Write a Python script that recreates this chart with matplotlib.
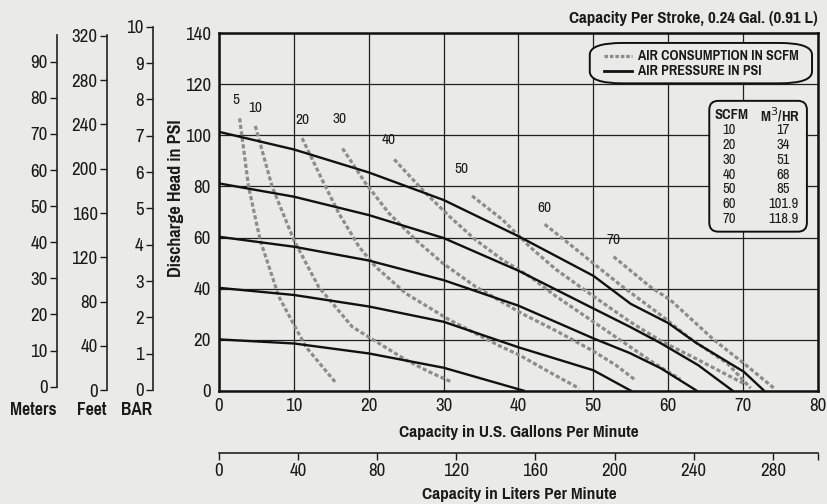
import matplotlib.pyplot as plt
from matplotlib import font_manager
from matplotlib.patches import FancyBboxPatch
from matplotlib.lines import Line2D

# Fonte estreita parecida com Arial Narrow, se existir
available = set(f.name for f in font_manager.fontManager.ttflist)
prefs = ['Liberation Sans Narrow', 'Arial Narrow', 'Pragati Narrow', 'Roboto Condensed',
         'PT Sans Narrow', 'Archivo Narrow', 'Liberation Sans']
narrow = [f for f in prefs if f in available][0]
plt.rcParams['font.family'] = [narrow, 'DejaVu Sans']

# Curvas de pressão do ar (PSI): pontos (GPM, PSI)
press_gpm = [
    [0, 10, 20, 30, 40, 50, 55, 60, 63.8, 70.1, 72.8],
    [0, 10, 20, 30, 40, 50, 54.9, 59, 64, 68.6],
    [0, 10, 20, 30, 40, 50, 54.9, 59, 63.8],
    [0, 10, 20, 30, 40, 50, 55],
    [0, 10, 20, 30, 40.7],
]
press_psi = [
    [101.4, 94.5, 85.5, 74.7, 60.5, 45, 34, 26.5, 18.6, 7.4, 0],
    [81.2, 76, 68.8, 59.8, 47, 32.2, 25, 18.6, 10, 0],
    [60.3, 56.4, 51, 43.3, 33.3, 20.5, 14.7, 8.8, 0],
    [40.3, 37.5, 33, 27, 17, 8, 0],
    [20.1, 18.5, 14.6, 9, 0],
]

# Curvas de consumo de ar (SCFM)
scfm_labels = ['5', '10', '20', '30', '40', '50', '60', '70']
scfm_gpm = [
    [2.75, 3.95, 5.5, 8.0, 11.6, 15.6],
    [4.85, 7.1, 10.0, 13.3, 17.8, 21.4, 25, 28, 31.0],
    [11.1, 13.8, 16.0, 18.7, 20.9, 25, 30.8, 37.5, 40.1, 44, 48.1],
    [16.5, 19.6, 22.7, 26.3, 29.9, 34.3, 40.6, 45, 50, 53, 55.6],
    [23.4, 27.2, 30.8, 34.3, 37.9, 41.5, 45, 50, 55, 58, 61.6],
    [33.8, 37.9, 41.5, 45, 50, 54.9, 59, 63.4, 67, 70.3],
    [43.5, 47, 50, 53.6, 57, 59, 62.9, 67.9, 71],
    [52.7, 57.6, 60.3, 66.1, 70.1, 74.2],
]
scfm_psi = [
    [106.7, 79.9, 59, 36.8, 17.2, 3.1],
    [103.7, 79.9, 59, 40.7, 25, 18.5, 12, 7.5, 3.5],
    [98.9, 82.5, 69.5, 56.4, 48.6, 38, 27.7, 17.5, 14, 7.5, 0.9],
    [94.9, 81.2, 69.5, 59, 49.9, 40.7, 30, 23.5, 15.5, 10, 4.2],
    [90.6, 78.6, 68.2, 59, 51.2, 44.7, 37, 27, 17, 11, 4.5],
    [76.3, 66.9, 56.4, 47.5, 37, 27, 19.5, 13, 7.5, 2.5],
    [65.2, 57, 49.9, 41.4, 34, 29.6, 20.5, 10.7, 1],
    [52.5, 40.7, 35.5, 19.9, 10.7, 0.8],
]
label_offsets = [(-3, 8), (0, 8), (0, 8), (-2, 16), (-4, 9), (-8, 14), (0, 7), (0, 7)]

# Tabela SCFM -> M3/HR
tab_scfm = ['10', '20', '30', '40', '50', '60', '70']
tab_m3hr = ['17', '34', '51', '68', '85', '101.9', '118.9']

# Eixos auxiliares
meters_ticks = [0, 10, 20, 30, 40, 50, 60, 70, 80, 90]
feet_ticks = [0, 40, 80, 120, 160, 200, 240, 280, 320]
bar_ticks = [0, 1, 2, 3, 4, 5, 6, 7, 8, 9, 10]
lpm_ticks = [0, 40, 80, 120, 160, 200, 240, 280]

W, H = 828, 504
bg = '#eaeae8'
txt = '#1a1a1a'
tick_fs = 14.8
lab_fs = 13.5


def fx(px):
    return px / W


def fy(py):
    return 1 - py / H


fig = plt.figure(figsize=(8.28, 5.04), dpi=100, facecolor=bg)

# Gráfico principal
ax = fig.add_axes([fx(219), fy(390.7), fx(818) - fx(219), fy(33.3) - fy(390.7)])
ax.set_facecolor(bg)
ax.set_xlim(0, 80)
ax.set_ylim(0, 140)
ax.set_xticks(range(0, 81, 10))
ax.set_yticks(range(0, 141, 20))
ax.grid(True, color='#202020', linewidth=0.9)
ax.set_axisbelow(True)
for s in ax.spines.values():
    s.set_linewidth(1.8)
    s.set_color('#111111')
ax.tick_params(length=0, labelsize=tick_fs, colors=txt, pad=6)
ax.tick_params(axis='x', pad=5)

for gx, gy in zip(scfm_gpm, scfm_psi):
    ax.plot(gx, gy, color='#8c8c8c', linewidth=2.3, dashes=(1.3, 0.75),
            solid_capstyle='butt', dash_capstyle='butt', zorder=3)
for gx, gy in zip(press_gpm, press_psi):
    ax.plot(gx, gy, color='#111111', linewidth=1.7, zorder=4)

for lab, gx, gy, off in zip(scfm_labels, scfm_gpm, scfm_psi, label_offsets):
    ax.annotate(lab, (gx[0], gy[0]), xytext=off, textcoords='offset points',
                ha='center', va='bottom', fontsize=12, color=txt)

# Legenda arredondada
leg = FancyBboxPatch((0.619, 0.860), 0.371, 0.113, transform=ax.transAxes,
                     boxstyle='round,pad=0,rounding_size=0.055',
                     facecolor=bg, edgecolor='#111111', linewidth=1.4, zorder=5,
                     mutation_aspect=357.4 / 599)
ax.add_patch(leg)
ax.add_line(Line2D([0.643, 0.690], [0.937, 0.937], transform=ax.transAxes,
                   color='#8c8c8c', linewidth=2.3, dashes=(1.1, 0.6), zorder=6))
ax.add_line(Line2D([0.643, 0.690], [0.895, 0.895], transform=ax.transAxes,
                   color='#111111', linewidth=2.0, zorder=6))
ax.text(0.700, 0.937, 'AIR CONSUMPTION IN SCFM', transform=ax.transAxes,
        fontsize=11, fontweight='bold', va='center', ha='left', color=txt, zorder=6)
ax.text(0.700, 0.895, 'AIR PRESSURE IN PSI', transform=ax.transAxes,
        fontsize=11, fontweight='bold', va='center', ha='left', color=txt, zorder=6)

# Tabela SCFM / M3/HR
tab = FancyBboxPatch((0.8185, 0.445), 0.163, 0.366, transform=ax.transAxes,
                     boxstyle='round,pad=0,rounding_size=0.015',
                     facecolor=bg, edgecolor='#111111', linewidth=1.4, zorder=5,
                     mutation_aspect=599 / 357.4)
ax.add_patch(tab)
ax.text(0.856, 0.772, 'SCFM', transform=ax.transAxes, fontsize=11.5,
        fontweight='bold', ha='center', va='center', color=txt, zorder=6)
ax.text(0.937, 0.772, 'M$^{3}$/HR', transform=ax.transAxes, fontsize=11.5,
        fontweight='bold', ha='center', va='center', color=txt, zorder=6)
for i, (a, b) in enumerate(zip(tab_scfm, tab_m3hr)):
    yy = 0.729 - i * 0.0415
    ax.text(0.852, yy, a, transform=ax.transAxes, fontsize=11.5,
            ha='center', va='center', color=txt, zorder=6)
    ax.text(0.942, yy, b, transform=ax.transAxes, fontsize=11.5,
            ha='center', va='center', color=txt, zorder=6)

fig.text(fx(818), fy(18), 'Capacity Per Stroke, 0.24 Gal. (0.91 L)', ha='right',
         va='center', fontsize=13.3, fontweight='bold', color=txt)
fig.text(fx(176), fy(198), 'Discharge Head in PSI', rotation=90, ha='center',
         va='center', fontsize=14.2, fontweight='bold', color=txt)
fig.text(fx(519), fy(432), 'Capacity in U.S. Gallons Per Minute', ha='center',
         va='center', fontsize=lab_fs, fontweight='bold', color=txt)


def side_axis(xpx, y0px, y1px, top, ticks, title, title_x):
    a = fig.add_axes([fx(xpx), fy(y0px), 0.0001, fy(y1px) - fy(y0px)])
    a.set_facecolor('none')
    for k in ['top', 'right', 'bottom']:
        a.spines[k].set_visible(False)
    a.spines['left'].set_linewidth(1.2)
    a.spines['left'].set_color('#222222')
    a.set_ylim(0, top)
    a.set_yticks(ticks)
    a.set_xticks([])
    a.tick_params(axis='y', length=5, width=1.0, labelsize=tick_fs,
                  colors=txt, pad=2, direction='out')
    fig.text(fx(title_x), fy(410), title, ha='center', va='center',
             fontsize=13.8, fontweight='bold', color=txt)
    return a


side_axis(57.3, 386.7, 35, 97.4, meters_ticks, 'Meters', 33)
side_axis(107.3, 390.3, 35, 320.8, feet_ticks, 'Feet', 92)
side_axis(153.3, 390, 26.7, 10, bar_ticks, 'BAR', 137)

# Eixo inferior em litros por minuto
axl = fig.add_axes([fx(219), fy(453), fx(818) - fx(219), 0.0001])
axl.set_facecolor('none')
for k in ['top', 'right', 'left']:
    axl.spines[k].set_visible(False)
axl.spines['bottom'].set_linewidth(1.2)
axl.spines['bottom'].set_color('#222222')
axl.set_xlim(0, 80 * 3.785411784)
axl.set_xticks(lpm_ticks)
axl.set_xticks([80 * 3.785411784], minor=True)
axl.set_yticks([])
axl.tick_params(axis='x', which='both', length=5, width=1.0, labelsize=tick_fs,
                colors=txt, pad=2, direction='out')
fig.text(fx(519), fy(494), 'Capacity in Liters Per Minute', ha='center',
         va='center', fontsize=lab_fs, fontweight='bold', color=txt)

fig.savefig('out.png', dpi=100, facecolor=bg)
